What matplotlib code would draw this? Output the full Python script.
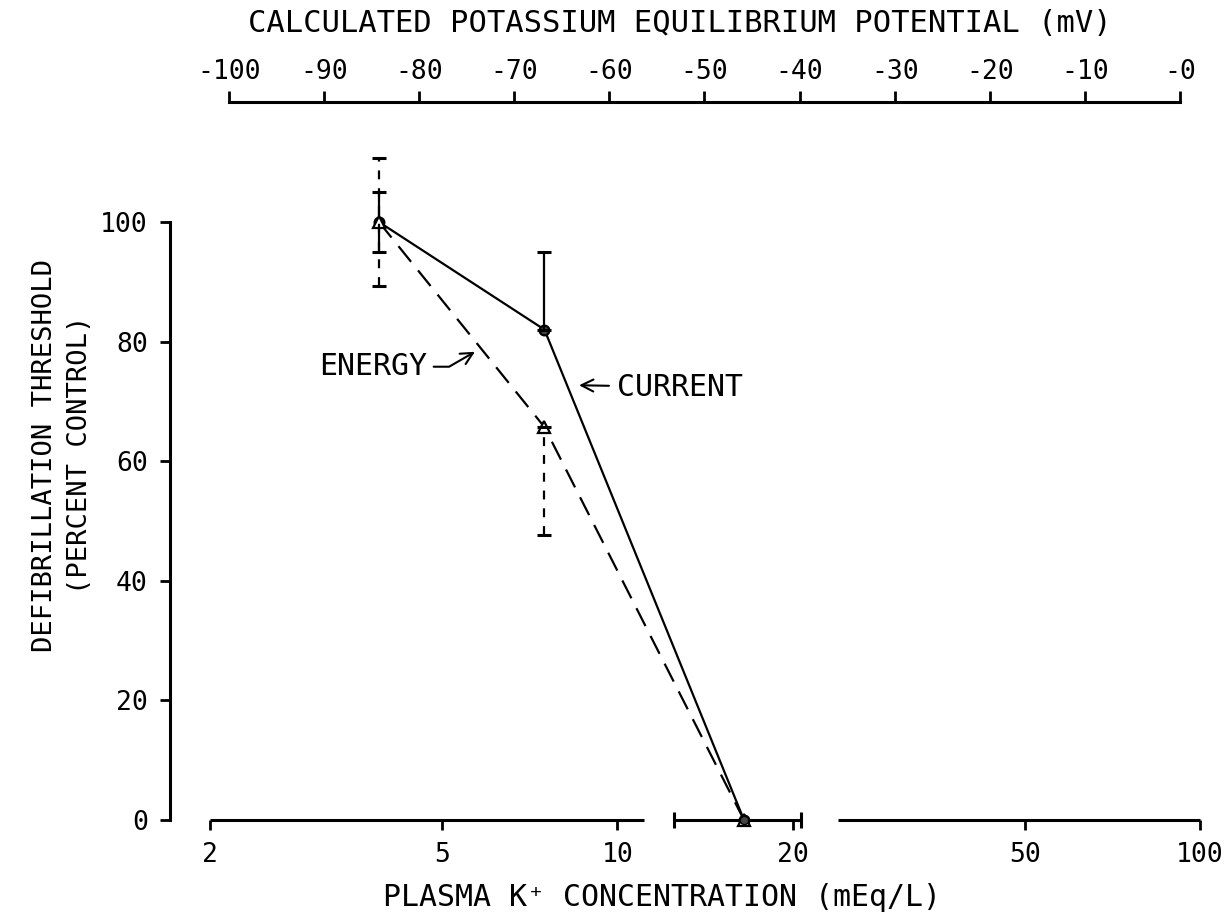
import numpy as np
import matplotlib
matplotlib.use("Agg")
import matplotlib.pyplot as plt

plt.rcParams['font.family'] = ['DejaVu Sans Mono', 'DejaVu Sans']

# plasma K+ (mEq/L) and threshold (% control)
k_conc = [3.9, 7.5, 16.5]
current = [100, 82, 0]
energy = [100, 65.7, 0]
current_err_lo = [5, 0, 0]
current_err_hi = [5, 13, 0]
energy_err_lo = [10.7, 18, 0]
energy_err_hi = [10.7, 0, 0]
k_err_lo = [0, 0, 4.0]
k_err_hi = [0, 0, 4.2]

x_ticks = [2, 5, 10, 20, 50, 100]
y_ticks = [0, 20, 40, 60, 80, 100]
mv_ticks = [-100, -90, -80, -70, -60, -50, -40, -30, -20, -10, 0]
mv_labels = ['-100', '-90', '-80', '-70', '-60', '-50', '-40', '-30', '-20', '-10', '-0']

W, H = 1231, 922
fig = plt.figure(figsize=(W / 100, H / 100), dpi=100)
ax = fig.add_axes([170 / W, 1 - 820 / H, 1030 / W, 598 / H])
ax.set_xscale('log')
ax.set_xlim(1.708, 100)
ax.set_ylim(0, 100)

for s in ['top', 'right', 'bottom']:
    ax.spines[s].set_visible(False)
ax.spines['left'].set_linewidth(2.2)
ax.spines['left'].set_bounds(0, 100)

ax.set_xticks(x_ticks)
ax.set_xticklabels([str(t) for t in x_ticks])
ax.xaxis.set_minor_locator(matplotlib.ticker.NullLocator())
ax.set_yticks(y_ticks)
ax.tick_params(axis='both', direction='out', length=7, width=2, labelsize=19, pad=9)

# broken x axis line
ax.plot([2, 11.1], [0, 0], color='k', lw=2.2, clip_on=False, solid_capstyle='butt')
ax.plot([23.9, 100], [0, 0], color='k', lw=2.2, clip_on=False, solid_capstyle='butt')

# current (solid)
ax.plot(k_conc, current, color='k', lw=1.6, marker='o', ms=7, mfc='#444444', mew=1.6, clip_on=False)
ax.errorbar(k_conc[:2], current[:2], yerr=[current_err_lo[:2], current_err_hi[:2]],
            fmt='none', ecolor='k', elinewidth=1.6, capsize=5, capthick=2.2, clip_on=False)

# energy (dashed)
ax.plot(k_conc, energy, color='k', lw=1.6, ls=(0, (9, 5)), marker='^', ms=8, mfc='white',
        mew=1.6, clip_on=False)
eb = ax.errorbar(k_conc[:2], energy[:2], yerr=[energy_err_lo[:2], energy_err_hi[:2]],
                 fmt='none', ecolor='k', elinewidth=1.6, capsize=5, capthick=2.2, clip_on=False)
eb[2][0].set_linestyle((0, (4, 4)))

# horizontal spread of K+ at zero threshold
ax.errorbar(k_conc[2:], [0], xerr=[k_err_lo[2:], k_err_hi[2:]], fmt='o', color='k', ms=6,
            mfc='#444444', elinewidth=2.2, capsize=6, capthick=2.2, clip_on=False)

ax.annotate('ENERGY', xy=(5.70, 78.3), xytext=(4.71, 75.8), ha='right', va='center', fontsize=21.5,
            arrowprops=dict(arrowstyle='->', color='k', lw=1.5, shrinkA=3, shrinkB=0,
                            connectionstyle='angle,angleA=0,angleB=30,rad=0'))
ax.annotate('CURRENT', xy=(8.6, 72.7), xytext=(10.0, 72.4), ha='left', va='center', fontsize=21.5,
            arrowprops=dict(arrowstyle='->', color='k', lw=1.5, shrinkA=4, shrinkB=0))

ax.set_xlabel('PLASMA K\u207a CONCENTRATION (mEq/L)', fontsize=21.5)
ax.xaxis.set_label_coords(0.478, -0.105)
ax.set_ylabel('DEFIBRILLATION THRESHOLD\n(PERCENT CONTROL)', fontsize=19.5, linespacing=1.45)
ax.yaxis.set_label_coords(-0.075, 0.61)

# top scale: potassium equilibrium potential
top = fig.add_axes([229 / W, 1 - 103 / H, 951 / W, 1 / H])
top.set_xlim(-100, 0)
top.set_ylim(0, 1)
for s in ['bottom', 'left', 'right']:
    top.spines[s].set_visible(False)
top.spines['top'].set_linewidth(2.2)
top.set_yticks([])
top.xaxis.tick_top()
top.set_xticks(mv_ticks)
top.set_xticklabels(mv_labels)
top.tick_params(axis='x', direction='out', length=8, width=2, labelsize=19, pad=4)
fig.text(680 / W, 1 - 23 / H, 'CALCULATED POTASSIUM EQUILIBRIUM POTENTIAL (mV)',
         ha='center', va='center', fontsize=22)

fig.savefig('out.png', dpi=100)
